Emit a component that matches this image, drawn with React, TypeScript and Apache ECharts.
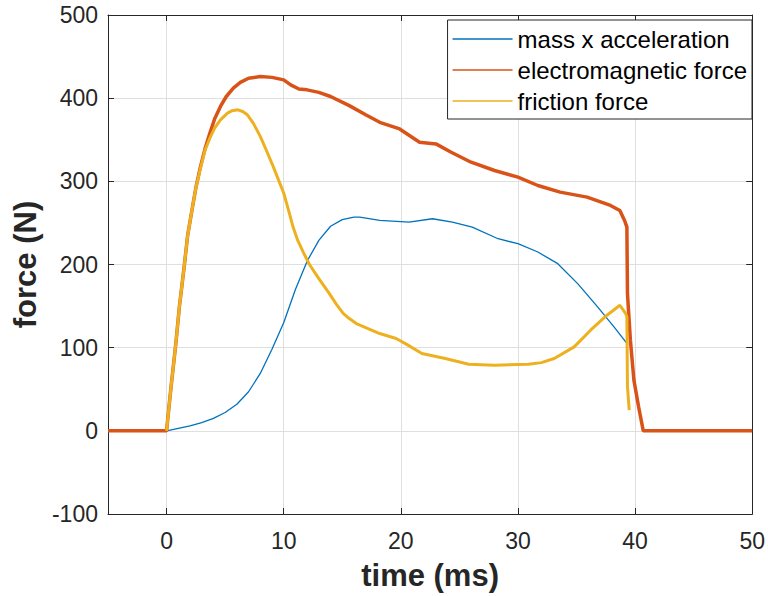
import React, { useEffect, useRef } from "react";
import * as echarts from "echarts";

const seriesNames = ["mass x acceleration", "electromagnetic force", "friction force"];

const massTime = [-5, 0, 1, 2, 3, 4, 5, 6, 7, 8, 9, 10, 11, 12, 13, 14, 15, 16, 16.5, 18.2, 20.7, 22.7, 24.4, 26.1, 28.3, 30, 31.7, 33.4, 35.1, 36.8, 38.2, 39.2, 39.4];
const massForce = [0, 0, 3, 6, 10, 15, 22, 32, 47, 69, 98, 130, 170, 204, 229, 246, 254, 257, 257, 253, 251, 255, 251, 245, 231, 225, 215, 201, 177, 149, 125, 107, 104];

const emTime = [-5, 0, 0.2, 0.4, 0.8, 1.1, 1.5, 1.8, 2.2, 2.5, 2.9, 3.3, 3.7, 4.1, 4.6, 5.1, 5.7, 6.3, 7, 8, 9, 10, 10.6, 11.3, 12, 13, 14, 15.6, 17, 18.2, 19.9, 21.6, 23, 24.3, 26, 28, 30, 31.7, 33.6, 35.9, 37.9, 38.7, 39.1, 39.3, 39.35, 39.6, 39.9, 40.3, 40.7, 50];
const emForce = [0, 0, 28, 55, 106, 150, 197, 235, 268, 292, 318, 340, 358, 375, 390, 402, 412, 419, 424, 426, 425, 422, 416, 411, 410, 407, 402, 391, 380, 371, 363, 347, 345, 335, 323, 313, 305, 295, 287, 281, 271, 265, 253, 245, 165, 109, 61, 29, 0, 0];

const frictionTime = [0, 0.2, 0.4, 0.8, 1.1, 1.5, 1.8, 2.2, 2.5, 2.9, 3.3, 3.7, 4.1, 4.6, 5.2, 5.6, 6.1, 6.5, 6.9, 7.4, 8, 8.5, 9.1, 10, 10.4, 10.8, 11.2, 11.7, 12.2, 13, 13.9, 14.5, 15.1, 15.6, 16.2, 18.2, 19.6, 20.5, 21.8, 23.8, 25.8, 28, 30.9, 32, 33.1, 34.8, 36.2, 37.6, 38.7, 39.2, 39.3, 39.35, 39.5];
const frictionForce = [0, 28, 55, 106, 150, 197, 235, 268, 292, 316, 338, 352, 364, 374, 382, 385, 386, 384, 380, 370, 354, 338, 318, 286, 266, 245, 229, 214, 200, 183, 165, 152, 141, 135, 129, 117, 111, 104, 93, 87, 80, 79, 80, 82, 87, 101, 121, 139, 151, 141, 137, 53, 25];

const colors = ["#0072BD", "#D95319", "#EDB120"];
const lineWidths = [1.3, 3.5, 3];

const pairs = (t: number[], v: number[]) => t.map((x, i) => [x, v[i]]);

const FONT = "'Liberation Sans', Arial, Helvetica, sans-serif";
const AX = "#262626";

export default function App() {
  const ref = useRef<HTMLDivElement>(null);
  useEffect(() => {
    if (!ref.current) return;
    const chart = echarts.init(ref.current, undefined, { renderer: "svg" });
    const data = [pairs(massTime, massForce), pairs(emTime, emForce), pairs(frictionTime, frictionForce)];
    const xCommon = {
      type: "value",
      min: -5,
      max: 50,
      splitNumber: 5,
    };
    const yCommon = {
      type: "value",
      min: -100,
      max: 500,
      interval: 100,
    };
    chart.setOption({
      animation: false,
      backgroundColor: "#ffffff",
      grid: { left: 108, right: 14, top: 15, bottom: 82 },
      legend: {
        orient: "vertical",
        right: 16,
        top: 20,
        data: seriesNames.map((n) => ({ name: n, icon: "rect" })),
        itemWidth: 60,
        itemHeight: 1.6,
        itemGap: 7,
        padding: [7, 5, 6, 5],
        borderColor: AX,
        borderWidth: 1,
        backgroundColor: "#ffffff",
        textStyle: { fontFamily: FONT, fontSize: 24, color: "#000000", lineHeight: 24 },
      },
      xAxis: [
        {
          ...xCommon,
          position: "bottom",
          name: "time (ms)",
          nameLocation: "middle",
          nameGap: 46,
          nameTextStyle: { fontFamily: FONT, fontSize: 31, fontWeight: "bold", color: AX },
          axisLine: { show: true, onZero: false, lineStyle: { color: AX, width: 1 } },
          axisTick: { show: true, inside: true, length: 6, lineStyle: { color: AX } },
          axisLabel: { showMinLabel: false, margin: 15, fontFamily: FONT, fontSize: 23, color: AX },
          splitLine: { show: true, lineStyle: { color: "#dfdfdf", width: 1 } },
        },
        {
          ...xCommon,
          position: "top",
          axisLine: { show: true, onZero: false, lineStyle: { color: AX, width: 1 } },
          axisTick: { show: true, inside: true, length: 6, lineStyle: { color: AX } },
          axisLabel: { show: false },
          splitLine: { show: false },
        },
      ],
      yAxis: [
        {
          ...yCommon,
          position: "left",
          name: "force (N)",
          nameLocation: "middle",
          nameGap: 58,
          nameTextStyle: { fontFamily: FONT, fontSize: 31, fontWeight: "bold", color: AX },
          axisLine: { show: true, onZero: false, lineStyle: { color: AX, width: 1 } },
          axisTick: { show: true, inside: true, length: 6, lineStyle: { color: AX } },
          axisLabel: { margin: 10, fontFamily: FONT, fontSize: 23, color: AX },
          splitLine: { show: true, lineStyle: { color: "#dfdfdf", width: 1 } },
        },
        {
          ...yCommon,
          position: "right",
          axisLine: { show: true, onZero: false, lineStyle: { color: AX, width: 1 } },
          axisTick: { show: true, inside: true, length: 6, lineStyle: { color: AX } },
          axisLabel: { show: false },
          splitLine: { show: false },
        },
      ],
      series: seriesNames.map((name, i) => ({
        name,
        type: "line",
        xAxisIndex: 0,
        yAxisIndex: 0,
        data: data[i],
        symbol: "none",
        showSymbol: false,
        smooth: false,
        color: colors[i],
        itemStyle: { color: colors[i] },
        lineStyle: { color: colors[i], width: lineWidths[i] },
        z: 2 + i,
      })),
    });
    return () => chart.dispose();
  }, []);
  return <div ref={ref} style={{ width: 768, height: 596, position: "absolute", left: 0, top: 0 }} />;
}
